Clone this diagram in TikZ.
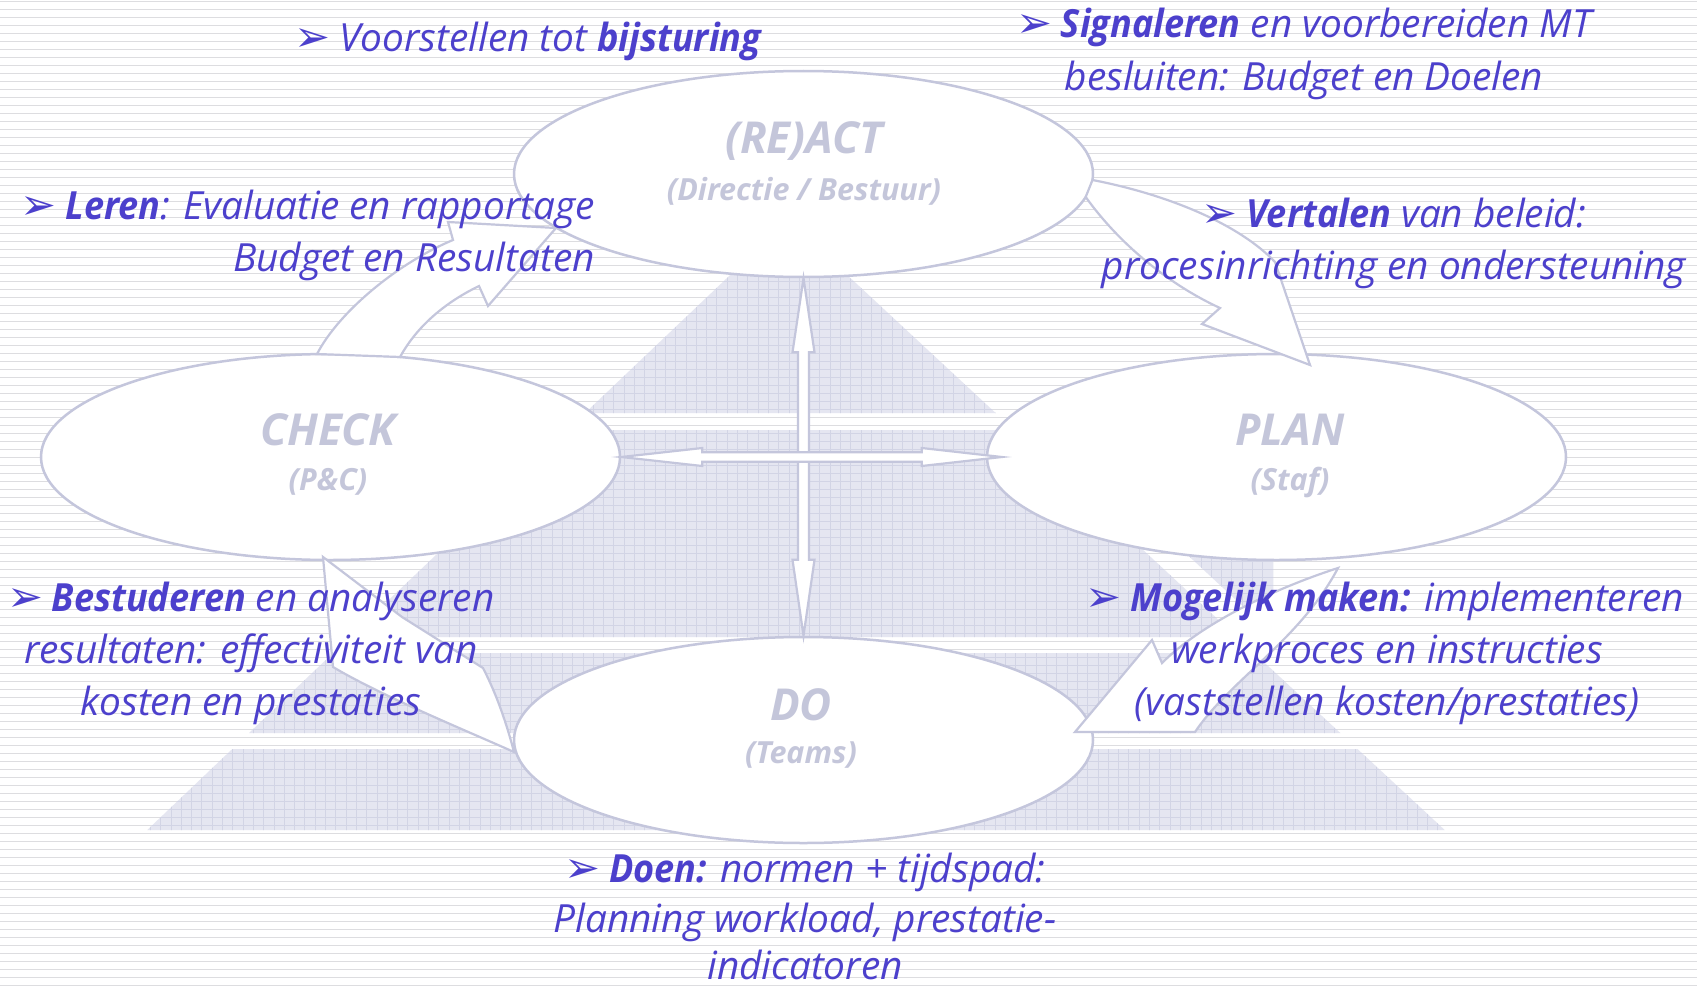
\documentclass[tikz,border=0pt]{standalone}
\usepackage{fontspec}
\setmainfont{Open Sans}[BoldItalicFeatures={FakeStretch=0.93}]
\newfontfamily\dejavu{DejaVu Sans}
\usetikzlibrary{shapes.geometric,calc}
\definecolor{tb}{RGB}{76,64,204}
\definecolor{lg}{RGB}{196,198,218}
\definecolor{ol}{RGB}{196,198,220}
\definecolor{bgl}{RGB}{221,221,224}
\definecolor{pyr}{RGB}{229,230,241}
\definecolor{pyl}{RGB}{210,212,229}
\newfontfamily\labfont{Open Sans}
\tikzset{
 txt/.style={text=tb, font=\fontsize{38.8}{52}\selectfont\itshape, inner sep=0pt},
 lab/.style={text=lg, font=\labfont\fontsize{44}{52}\selectfont\bfseries\itshape, inner sep=0pt},
 sublab/.style={text=lg, font=\labfont\fontsize{30.5}{36}\selectfont\bfseries\itshape, inner sep=0pt},
 stage/.style={ellipse, draw=ol, line width=2.5pt, fill=white, minimum width=579pt, minimum height=206pt, inner sep=0pt},
 blk/.style={draw=ol, line width=2.2pt, fill=white, line join=miter},
 bgline/.style={bgl, line width=1.4pt},
 gridline/.style={pyl, line width=1pt},
}
\newcommand{\bul}{{\dejavu\fontsize{43}{43}\selectfont ➢}\hspace{0.22em}}
\begin{document}
\begin{tikzpicture}[x=1pt,y=-1pt]
\useasboundingbox (0,0) rectangle (1697,990);
\fill[white] (0,0) rectangle (1697,990);
% background stripes
\foreach \y in {1.7,9.7,...,990} \draw[bgline] (0,\y) -- (1697,\y);
% pyramid
\begin{scope}
\clip (788,220) -- (585.1,413) -- (995.6,413) -- cycle
      (567.25,430) -- (349.9,637) -- (1236.9,637) -- (1013.9,430) -- cycle
      (1053,430) -- (1273,430) -- (1273,634.3) -- cycle
      (333.1,653) -- (249.1,733) -- (1340.3,733) -- (1254.1,653) -- cycle
      (232.3,749) -- (147.25,830) -- (1444.7,830) -- (1357.5,749) -- cycle;
\fill[pyr] (0,0) rectangle (1697,990);
\foreach \x in {140,150.3,...,1460} \draw[gridline, line width=0.8pt] (\x,200) -- (\x,840);
\foreach \y in {217.7,225.7,...,835} \draw[gridline] (130,\y) -- (1460,\y);
\end{scope}
% stages
\node[stage] (react) at (803.5,174) {};
\node[stage] (check) at (330.5,457) {};
\node[stage] (plan) at (1276.5,457) {};
\node[stage] (do) at (803.5,740) {};
% curved block arrows
\draw[blk] (317,354) .. controls (340,310) and (400,262) .. (453,240) -- (448,222) -- (556,228) -- (488,306) -- (479,286) .. controls (440,305) and (415,330) .. (400,357) -- cycle;
\draw[blk] (1092.5,180) .. controls (1170,195) and (1240,225) .. (1275,262) -- (1310,365) -- (1202,324) -- (1220,308) .. controls (1170,285) and (1120,245) .. (1085.7,197) -- cycle;
\draw[blk] (1338,568) .. controls (1300,640) and (1230,680) .. (1195,732) -- (1075,732) -- (1152,640) -- (1162,663) .. controls (1200,625) and (1270,590) .. cycle;
\draw[blk] (323,557) -- (402,617) -- (483,668) .. controls (497,695) and (507,725) .. (514,752) .. controls (460,728) and (380,695) .. (333,667) -- cycle;
% straight double arrows
\draw[blk] let \p1=(react.south), \p2=(do.north) in
  (\p1) -- (\x1+11pt,\y1-74pt) -- (\x1+5.5pt,\y1-74pt) -- (\x1+5.5pt,\y2+76pt) -- (\x1+11pt,\y2+76pt) -- (\p2)
  -- (\x1-11pt,\y2+76pt) -- (\x1-5.5pt,\y2+76pt) -- (\x1-5.5pt,\y1-74pt) -- (\x1-11pt,\y1-74pt) -- cycle;
\draw[blk] let \p1=(check.east), \p2=($(plan.west)+(16,0)$) in
  (\p1) -- (\x1+81pt,\y1+9pt) -- (\x1+81pt,\y1+4.75pt) -- (\x2-80pt,\y1+4.75pt) -- (\x2-80pt,\y1+9pt) -- (\p2)
  -- (\x2-80pt,\y1-9pt) -- (\x2-80pt,\y1-4.75pt) -- (\x1+81pt,\y1-4.75pt) -- (\x1+81pt,\y1-9pt) -- cycle;
% stage labels
\node[lab, anchor=base] (reactl) at (804,153) {(RE)ACT};
\node[sublab, anchor=base] (reacts) at (804,200) {(Directie / Bestuur)};
\node[lab, anchor=base] (checkl) at (328,445) {CHECK};
\node[sublab, anchor=base] (checks) at (328,490) {(P\&C)};
\node[lab, anchor=base] (planl) at (1290,445) {PLAN};
\node[sublab, anchor=base] (plans) at (1290,490) {(Staf)};
\node[lab, anchor=base] (dol) at (801,720) {DO};
\node[sublab, anchor=base] (dos) at (801,763) {(Teams)};
% texts
\node[txt, anchor=base] (vs) at (528,52) {\bul Voorstellen tot \textbf{bijsturing}};
\node[txt, anchor=base] (sg1) at (1304,38) {\bul\textbf{Signaleren} en voorbereiden MT};
\node[txt, anchor=base] (sg2) at (1304,90) {besluiten: Budget en Doelen};
\node[txt, anchor=base east] (le1) at (595,219) {\bul\textbf{Leren}: Evaluatie en rapportage};
\node[txt, anchor=base east] (le2) at (595,271) {Budget en Resultaten};
\node[txt, anchor=base] (ve1) at (1394,227) {\bul\textbf{Vertalen} van beleid:};
\node[txt, anchor=base] (ve2) at (1394,279) {procesinrichting en ondersteuning};
\node[txt, anchor=base] (be1) at (251,611) {\bul\textbf{Bestuderen} en analyseren};
\node[txt, anchor=base] (be2) at (251,663) {resultaten: effectiviteit van};
\node[txt, anchor=base] (be3) at (251,715) {kosten en prestaties};
\node[txt, anchor=base] (mo1) at (1385,611) {\bul\textbf{Mogelijk maken:} implementeren};
\node[txt, anchor=base] (mo2) at (1387,663) {werkproces en instructies};
\node[txt, anchor=base] (mo3) at (1387,715) {(vaststellen kosten/prestaties)};
\node[txt, anchor=base] (do1) at (805,882) {\bul\textbf{Doen:} normen + tijdspad:};
\node[txt, anchor=base] (do2) at (805,932) {Planning workload, prestatie-};
\node[txt, anchor=base] (do3) at (805,979) {indicatoren};
\end{tikzpicture}
\end{document}
